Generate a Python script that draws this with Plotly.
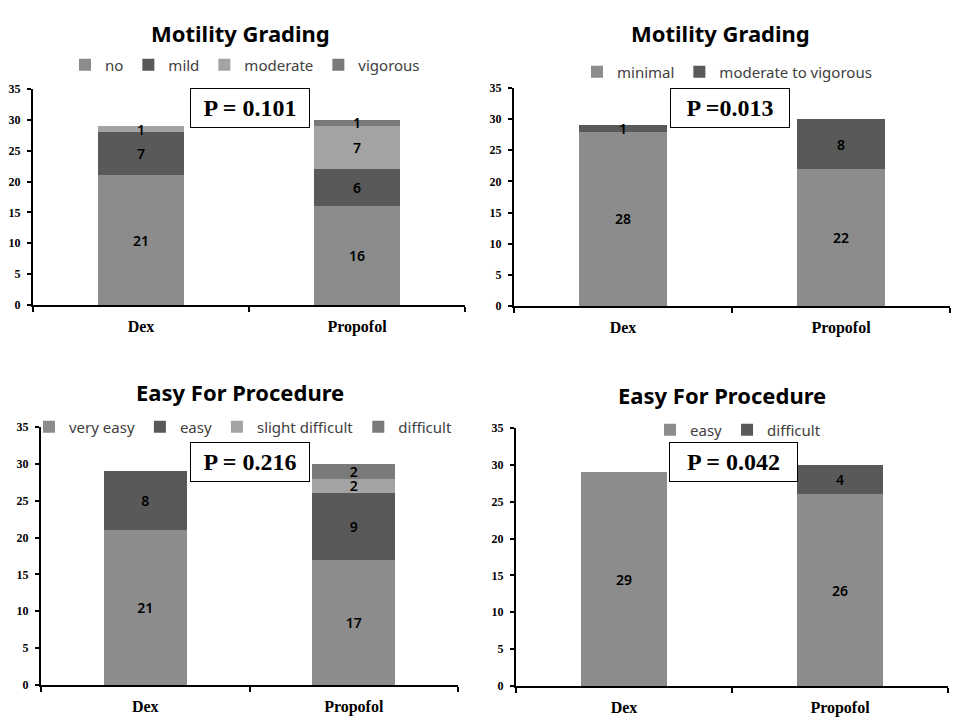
import plotly.graph_objects as go

groups = ["Dex", "Propofol"]

# Panel 1: Motility Grading (4 grades)
p1_labels = ["no", "mild", "moderate", "vigorous"]
p1_dex = [21, 7, 1, 0]
p1_pro = [16, 6, 7, 1]
p1_colors = ["#8c8c8c", "#595959", "#a3a3a3", "#7a7a7a"]

# Panel 2: Motility Grading (2 grades)
p2_labels = ["minimal", "moderate to vigorous"]
p2_dex = [28, 1]
p2_pro = [22, 8]
p2_colors = ["#8c8c8c", "#595959"]

# Panel 3: Easy For Procedure (4 grades)
p3_labels = ["very easy", "easy", "slight difficult", "difficult"]
p3_dex = [21, 8, 0, 0]
p3_pro = [17, 9, 2, 2]
p3_colors = ["#8c8c8c", "#595959", "#a3a3a3", "#7a7a7a"]

# Panel 4: Easy For Procedure (2 grades)
p4_labels = ["easy", "difficult"]
p4_dex = [29, 0]
p4_pro = [26, 4]
p4_colors = ["#8c8c8c", "#595959"]

titles = ["Motility Grading", "Motility Grading", "Easy For Procedure", "Easy For Procedure"]
pvalues = ["P = 0.101", "P =0.013", "P = 0.216", "P = 0.042"]

W, H = 960, 720

def fx(px):
    return px / W

def fy(py):
    return 1 - py / H

# geometry (pixels): x-axis left/right, y of 35 and y of 0
panels = [
    dict(x0=33, x1=465, ytop=89, ybot=305, title=(240, 33), legend=(245, 65), pbox=(250, 108, 114)),
    dict(x0=514, x1=950, ytop=88, ybot=306, title=(720, 33), legend=(727, 72), pbox=(730, 108, 114)),
    dict(x0=41, x1=458, ytop=427, ybot=685, title=(240, 392), legend=(243, 427), pbox=(250, 462, 114)),
    dict(x0=516, x1=948, ytop=428, ybot=686, title=(722, 395), legend=(738, 430), pbox=(733, 462, 123)),
]

datasets = [
    (p1_labels, p1_dex, p1_pro, p1_colors),
    (p2_labels, p2_dex, p2_pro, p2_colors),
    (p3_labels, p3_dex, p3_pro, p3_colors),
    (p4_labels, p4_dex, p4_pro, p4_colors),
]

fig = go.Figure()
layout = dict(
    width=W, height=H, margin=dict(l=0, r=0, t=0, b=0, autoexpand=False),
    paper_bgcolor="white", plot_bgcolor="white",
    barmode="stack", showlegend=True,
    uniformtext=dict(minsize=14, mode="show"),
    annotations=[],
)

label_font = dict(family="Noto Sans", size=14, color="black", weight=600)

for i, (panel, (labels, dex, pro, colors)) in enumerate(zip(panels, datasets)):
    n = i + 1
    xa = "x" if n == 1 else f"x{n}"
    ya = "y" if n == 1 else f"y{n}"
    lg = "legend" if n == 1 else f"legend{n}"
    for lab, d, p, c in zip(labels, dex, pro, colors):
        vals = [d, p]
        fig.add_trace(go.Bar(
            x=groups, y=vals, name=lab, marker=dict(color=c, line=dict(width=0)),
            width=0.4, xaxis=xa, yaxis=ya, legend=lg,
            text=[str(v) if v > 0 else "" for v in vals],
            textposition="inside", insidetextanchor="middle", textangle=0,
            constraintext="none", textfont=label_font, hoverinfo="skip",
        ))
    xkey = "xaxis" if n == 1 else f"xaxis{n}"
    ykey = "yaxis" if n == 1 else f"yaxis{n}"
    layout[xkey] = dict(
        domain=[fx(panel["x0"]), fx(panel["x1"])], anchor=ya,
        type="category", range=[-0.5, 1.5],
        showline=True, linecolor="black", linewidth=2,
        ticks="outside", tickson="boundaries", ticklen=5, tickwidth=2, tickcolor="black",
        tickfont=dict(family="Liberation Serif", size=16, color="black", weight="bold"),
        ticklabelstandoff=6, showgrid=False, zeroline=False, fixedrange=True,
        automargin=False,
    )
    layout[ykey] = dict(
        domain=[fy(panel["ybot"]), fy(panel["ytop"])], anchor=xa,
        range=[0, 35], dtick=5, tick0=0,
        showline=True, linecolor="black", linewidth=2,
        ticks="outside", ticklen=4, tickwidth=2, tickcolor="black",
        tickfont=dict(family="Liberation Serif", size=12, color="black", weight="bold"),
        ticklabelstandoff=4, showgrid=False, zeroline=False, fixedrange=True,
        automargin=False,
    )
    lx, ly = panel["legend"]
    layout[lg] = dict(
        orientation="h", x=fx(lx), y=fy(ly), xanchor="center", yanchor="middle",
        traceorder="normal", font=dict(family="Noto Sans", size=15, color="#404040"),
        itemwidth=30, bgcolor="rgba(0,0,0,0)", itemclick=False, itemdoubleclick=False,
    )
    tx, ty = panel["title"]
    layout["annotations"].append(dict(
        text=titles[i], xref="paper", yref="paper", x=fx(tx), y=fy(ty),
        xanchor="center", yanchor="middle", showarrow=False,
        font=dict(family="Noto Sans", size=22, color="black", weight="bold"),
    ))
    bx, by, bw = panel["pbox"]
    layout["annotations"].append(dict(
        text=pvalues[i], xref="paper", yref="paper", x=fx(bx), y=fy(by),
        xanchor="center", yanchor="middle", showarrow=False,
        width=bw, height=34, align="center", borderpad=2,
        bordercolor="black", borderwidth=1, bgcolor="white",
        font=dict(family="Liberation Serif", size=24, color="black", weight="bold"),
    ))

fig.update_layout(**layout)
fig.write_html("out.html")
